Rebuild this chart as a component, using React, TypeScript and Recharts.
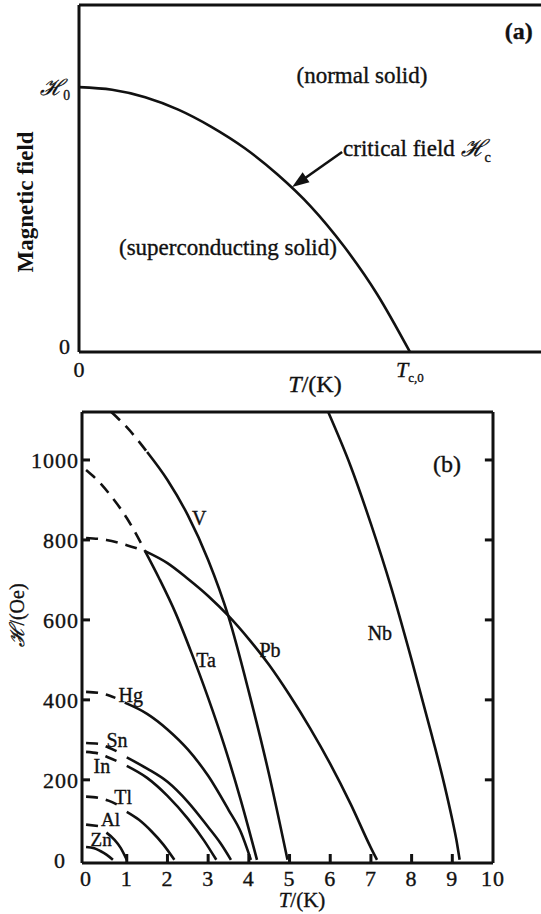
import React from 'react';
import { LineChart, Line, XAxis, YAxis, ReferenceLine, ReferenceDot } from 'recharts';

const SERIF = '"Liberation Serif", "Times New Roman", serif';
const INK = '#111';
// scanned print looks a bit heavier than the plain font
const HEAVY = { stroke: INK, strokeWidth: 0.35 };

// ---- panel (a): reduced units, T / Tc,0 and field / H0
const phaseT = [0, 0.1, 0.2, 0.3, 0.4, 0.5, 0.6, 0.7, 0.8, 0.9, 1.0];
const phaseH = [1.0, 0.99, 0.962, 0.915, 0.85, 0.77, 0.67, 0.55, 0.4, 0.22, 0];

// ---- panel (b): [T (K), H (Oe)]; *Dash = extrapolated part
type Pair = [number, number];
const zn: Pair[] = [[0, 32], [0.2, 29], [0.35, 22], [0.5, 13], [0.66, 0]];
const alDash: Pair[] = [[0, 88], [0.32, 84]];
const al: Pair[] = [[0.5, 68], [0.7, 50], [0.85, 30], [1.0, 0]];
const tlDash: Pair[] = [[0, 158], [0.3, 155], [0.55, 148], [0.8, 136]];
const tl: Pair[] = [[1.0, 120], [1.3, 100], [1.6, 72], [1.9, 38], [2.17, 0]];
const inDash: Pair[] = [[0, 270], [0.3, 266], [0.55, 256], [0.82, 244]];
const inn: Pair[] = [[1.0, 235], [1.5, 205], [2.0, 160], [2.5, 103], [2.9, 48], [3.2, 0]];
const snDash: Pair[] = [[0, 292], [0.3, 290], [0.55, 281], [0.82, 268]];
const sn: Pair[] = [[1.0, 256], [1.5, 228], [2.0, 195], [2.5, 145], [3.0, 82], [3.3, 42], [3.56, 0]];
const hgDash: Pair[] = [[0, 420], [0.35, 417], [0.72, 405]];
const hg: Pair[] = [[0.95, 393], [1.5, 365], [2.0, 326], [2.5, 276], [3.0, 210], [3.5, 125], [3.8, 70], [4.05, 0]];
const taDash: Pair[] = [[0, 975], [0.35, 942], [0.65, 905], [1.0, 855], [1.2, 820], [1.45, 772]];
const ta: Pair[] = [[1.45, 772], [1.8, 703], [2.2, 617], [2.6, 515], [3.0, 405], [3.4, 285], [3.8, 150], [4.2, 0]];
const vDash: Pair[] = [[0.62, 1120], [1.0, 1082], [1.5, 1020]];
const v: Pair[] = [[1.5, 1020], [2.0, 950], [2.5, 862], [3.0, 750], [3.5, 608], [4.0, 420], [4.5, 212], [4.95, 0]];
const pbDash: Pair[] = [[0, 805], [0.5, 800], [1.0, 787], [1.45, 772]];
const pb: Pair[] = [[1.45, 772], [2.0, 742], [2.5, 703], [3.0, 660], [3.5, 610], [4.0, 552], [4.5, 487], [5.0, 412], [5.5, 330], [6.0, 240], [6.5, 140], [7.0, 30], [7.15, 0]];
const nb: Pair[] = [[5.95, 1120], [6.5, 985], [7.0, 840], [7.5, 680], [8.0, 500], [8.5, 310], [8.8, 190], [9.0, 100], [9.1, 50], [9.18, 0]];

const solidCurves = [zn, al, tl, inn, sn, hg, ta, v, pb, nb];
const dashedCurves = [alDash, tlDash, inDash, snDash, hgDash, taDash, vDash, pbDash];

const elementNames = ['Zn', 'Al', 'Tl', 'In', 'Sn', 'Hg', 'Ta', 'V', 'Pb', 'Nb'];
const labelT = [0.37, 0.6, 0.91, 0.39, 0.76, 1.1, 2.95, 2.78, 4.52, 7.22];
const labelH = [52, 102, 157, 235, 300, 412, 500, 855, 525, 567];

const tempTicks = [0, 1, 2, 3, 4, 5, 6, 7, 8, 9, 10];
const fieldTicks = [0, 200, 400, 600, 800, 1000];

const pts = (pairs: Pair[]) => pairs.map(([t, h]) => ({ t, h }));
const phaseData = phaseT.map((t, i) => ({ t, h: phaseH[i] }));

function Script({ sub, size = 22 }: { sub: string; size?: number }) {
  return (
    <>
      <tspan fontStyle="italic">ℋ</tspan>
      <tspan fontSize={size * 0.62} dy={size * 0.25}>{sub}</tspan>
    </>
  );
}

function TextMark(props: any) {
  const { cx, cy, children, size = 20, anchor = 'middle', weight = 'normal' } = props;
  return (
    <text x={cx} y={cy} dy="0.35em" textAnchor={anchor} fontSize={size} fontWeight={weight} fontFamily={SERIF} fill={INK} {...HEAVY}>
      {children}
    </text>
  );
}

function ArrowHead({ cx, cy }: any) {
  const ux = -0.819;
  const uy = 0.573;
  const bx = cx - ux * 17;
  const by = cy - uy * 17;
  const px = -uy * 6;
  const py = ux * 6;
  return <polygon points={`${cx},${cy} ${bx + px},${by + py} ${bx - px},${by - py}`} fill={INK} />;
}

function PanelA() {
  return (
    <LineChart width={541} height={405} margin={{ top: 5, right: 0, bottom: 10, left: 0 }}>
      <XAxis
        dataKey="t"
        type="number"
        domain={[0, 1.396]}
        ticks={[0, 1]}
        height={43}
        axisLine={{ stroke: INK, strokeWidth: 3 }}
        tickLine={false}
        tickSize={0}
        tickMargin={0}
        tick={(p: any) => (
          <text x={p.x} y={p.y + 17} dy="0.35em" textAnchor="middle" fontSize={22} fontFamily={SERIF} fill={INK} {...HEAVY}>
            {p.payload.value === 0 ? '0' : (
              <>
                <tspan fontStyle="italic">T</tspan>
                <tspan fontSize={13} dy={5}>c,0</tspan>
              </>
            )}
          </text>
        )}
        label={{
          content: () => (
            <text x={315} y={384} dy="0.35em" textAnchor="middle" fontSize={24} fontFamily={SERIF} fill={INK} {...HEAVY}>
              <tspan fontStyle="italic">T</tspan>/(K)
            </text>
          ),
        }}
      />
      <YAxis
        type="number"
        domain={[0, 1.31]}
        ticks={[0, 1]}
        width={79}
        axisLine={{ stroke: INK, strokeWidth: 3 }}
        tickLine={false}
        tickSize={0}
        tickMargin={0}
        tick={(p: any) => (
          <text x={p.x - 9} y={p.payload.value === 0 ? p.y - 6 : p.y} dy="0.35em" textAnchor="end" fontSize={22} fontFamily={SERIF} fill={INK} {...HEAVY}>
            {p.payload.value === 0 ? '0' : <Script sub="0" />}
          </text>
        )}
        label={{
          content: () => (
            <text transform="translate(25, 202) rotate(-90)" dy="0.35em" textAnchor="middle" fontSize={23} fontWeight="bold" fontFamily={SERIF} fill={INK}>
              Magnetic field
            </text>
          ),
        }}
      />
      <ReferenceLine y={1.31} stroke={INK} strokeWidth={3} />
      <Line data={phaseData} dataKey="h" type="monotone" stroke={INK} strokeWidth={2.6} dot={false} isAnimationActive={false} />
      <ReferenceLine segment={[{ x: 0.795, y: 0.755 }, { x: 0.66, y: 0.636 }]} stroke={INK} strokeWidth={2.6} />
      <ReferenceDot x={0.644} y={0.623} r={0} shape={(p: any) => <ArrowHead {...p} />} />
      <ReferenceDot x={0.855} y={1.045} r={0} shape={(p: any) => <TextMark {...p} size={23}>(normal solid)</TextMark>} />
      <ReferenceDot x={0.798} y={0.77} r={0} shape={(p: any) => <TextMark {...p} size={23} anchor="start">critical field <Script sub="c" size={23} /></TextMark>} />
      <ReferenceDot x={0.45} y={0.396} r={0} shape={(p: any) => <TextMark {...p} size={23}>(superconducting solid)</TextMark>} />
      <ReferenceDot x={1.329} y={1.215} r={0} shape={(p: any) => <TextMark {...p} size={24} weight="bold">(a)</TextMark>} />
    </LineChart>
  );
}

function PanelB() {
  return (
    <LineChart width={541} height={519} margin={{ top: 17, right: 48, bottom: 0, left: 0 }}>
      <XAxis
        dataKey="t"
        type="number"
        domain={[-0.1, 10]}
        ticks={tempTicks}
        height={51}
        axisLine={{ stroke: INK, strokeWidth: 3 }}
        tickLine={false}
        tickSize={0}
        tickMargin={0}
        tick={(p: any) => {
          const val = p.payload.value;
          return (
            <g>
              {val > 0 && val < 10 && <line x1={p.x} x2={p.x} y1={p.y} y2={p.y - 9} stroke={INK} strokeWidth={3} />}
              <text x={p.x} y={p.y + 15} dy="0.35em" textAnchor="middle" fontSize={22} letterSpacing={1} fontFamily={SERIF} fill={INK} {...HEAVY}>
                {val}
              </text>
            </g>
          );
        }}
        label={{
          content: () => (
            <text x={302} y={505} dy="0.35em" textAnchor="middle" fontSize={21} fontFamily={SERIF} fill={INK} {...HEAVY}>
              <tspan fontStyle="italic">T</tspan>/(K)
            </text>
          ),
        }}
      />
      <YAxis
        type="number"
        domain={[-8, 1120]}
        ticks={fieldTicks}
        width={82}
        axisLine={{ stroke: INK, strokeWidth: 3 }}
        tickLine={false}
        tickSize={0}
        tickMargin={0}
        tick={(p: any) => {
          const val = p.payload.value;
          return (
            <g>
              {val > 0 && <line x1={p.x} x2={p.x + 8} y1={p.y} y2={p.y} stroke={INK} strokeWidth={3} />}
              <text x={val === 0 ? p.x - 16 : p.x - 3} y={p.y} dy="0.35em" textAnchor="end" fontSize={22} letterSpacing={1} fontFamily={SERIF} fill={INK} {...HEAVY}>
                {val}
              </text>
            </g>
          );
        }}
        label={{
          content: () => (
            <text transform="translate(17, 220) rotate(-90)" dy="0.35em" textAnchor="middle" fontSize={20} fontFamily={SERIF} fill={INK} {...HEAVY}>
              <tspan fontStyle="italic">ℋ</tspan>/(Oe)
            </text>
          ),
        }}
      />
      <ReferenceLine y={1120} stroke={INK} strokeWidth={3} />
      <ReferenceLine x={10} stroke={INK} strokeWidth={3} />
      {fieldTicks.filter((f) => f > 0).map((f) => (
        <ReferenceLine key={f} segment={[{ x: 9.8, y: f }, { x: 10, y: f }]} stroke={INK} strokeWidth={3} />
      ))}
      {solidCurves.map((c, i) => (
        <Line key={'s' + i} data={pts(c)} dataKey="h" type="monotone" stroke={INK} strokeWidth={2.6} dot={false} isAnimationActive={false} />
      ))}
      {dashedCurves.map((c, i) => (
        <Line key={'d' + i} data={pts(c)} dataKey="h" type="monotone" stroke={INK} strokeWidth={2.6} strokeDasharray="12 8" dot={false} isAnimationActive={false} />
      ))}
      {elementNames.map((name, i) => (
        <ReferenceDot key={name} x={labelT[i]} y={labelH[i]} r={0} shape={(p: any) => <TextMark {...p} size={i < 2 ? 19 : 20}>{name}</TextMark>} />
      ))}
      <ReferenceDot x={8.87} y={992} r={0} shape={(p: any) => <TextMark {...p} size={24}>(b)</TextMark>} />
    </LineChart>
  );
}

export default function App() {
  return (
    <div style={{ position: 'absolute', left: 0, top: 0, width: 541, height: 914, background: '#fff' }}>
      <div style={{ position: 'absolute', left: 0, top: 0 }}>
        <PanelA />
      </div>
      <div style={{ position: 'absolute', left: 0, top: 395 }}>
        <PanelB />
      </div>
    </div>
  );
}
